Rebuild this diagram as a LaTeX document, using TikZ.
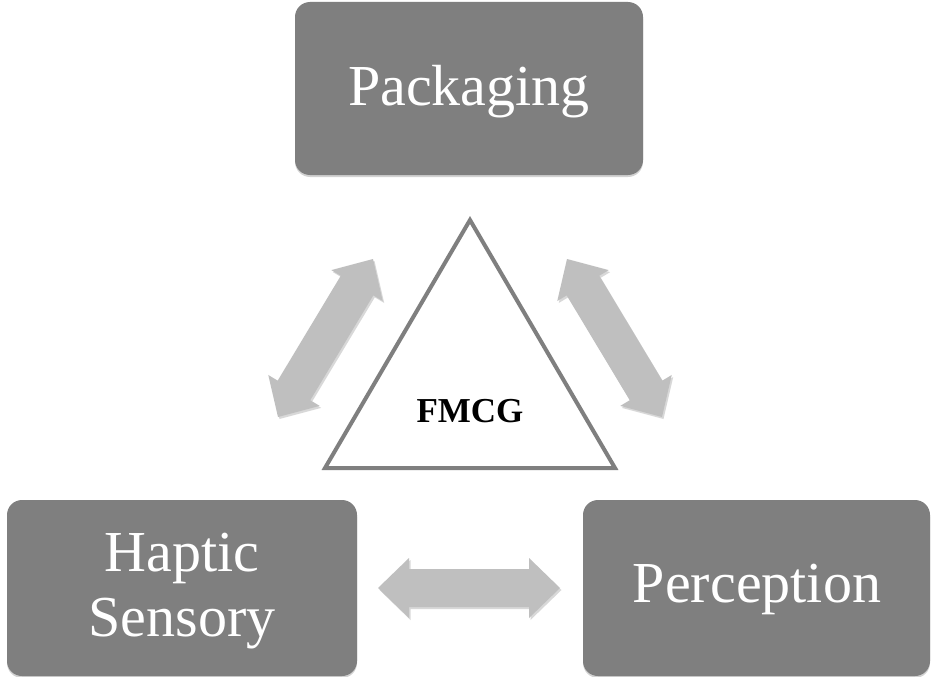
\documentclass[tikz,border=0pt]{standalone}
\usepackage{fontspec}
\setmainfont{Liberation Serif}
\usetikzlibrary{calc,shadows}
\definecolor{boxgray}{HTML}{7F7F7F}
\definecolor{arrgray}{HTML}{BFBFBF}
\definecolor{trigray}{HTML}{7F7F7F}
\tikzset{
  boxbg/.style={fill=boxgray, rounded corners=15pt, drop shadow={shadow xshift=0pt, shadow yshift=-2pt, opacity=0.35}},
  boxtext/.style={text=white, font=\fontsize{58}{65}\selectfont, align=center},
  arrowfill/.style={fill=arrgray, drop shadow={shadow xshift=1.5pt, shadow yshift=-2pt, opacity=0.3}},
}
\newcommand{\dblarr}[3]{%
  \coordinate (#1ha) at ($(#2)!31pt!(#3)$);
  \coordinate (#1hb) at ($(#3)!31pt!(#2)$);
  \fill[arrowfill] (#2) -- ($(#1ha)!30pt!90:(#3)$) -- ($(#1ha)!19pt!90:(#3)$)
    -- ($(#1hb)!19pt!-90:(#2)$) -- ($(#1hb)!30pt!-90:(#2)$) -- (#3)
    -- ($(#1hb)!30pt!90:(#2)$) -- ($(#1hb)!19pt!90:(#2)$)
    -- ($(#1ha)!19pt!-90:(#3)$) -- ($(#1ha)!30pt!-90:(#3)$) -- cycle;}
\begin{document}
\begin{tikzpicture}[x=1pt,y=-1pt]
\fill[white] (0,0) rectangle (932,677);
\useasboundingbox (0,0) rectangle (932,677);
% boxes
\path[boxbg] (295,2) rectangle (643,175);
\path[boxbg] (7,500) rectangle (357,676);
\path[boxbg] (583,500) rectangle (930,676);
\node[boxtext, anchor=base] (pack) at (469,105) {Packaging};
\node[boxtext] (hap) at (182,591) {Haptic\\Sensory};
\node[boxtext, anchor=base] (perc) at (757,602) {Perception};
% triangle
\coordinate (tA) at (470,220);
\coordinate (tB) at (325,468);
\coordinate (tC) at (615,468);
\draw[trigray, line width=4pt, fill=white, line join=miter] (tA) -- (tB) -- (tC) -- cycle;
\node[font=\fontsize{35}{40}\selectfont\bfseries, anchor=base] (fmcg) at (470,422) {FMCG};
% arrows
\coordinate (la) at (278,417);
\coordinate (lb) at (373,259);
\coordinate (ra) at (567,259);
\coordinate (rb) at (662,417);
\coordinate (ba) at (378,588);
\coordinate (bb) at (560,588);
\dblarr{L}{la}{lb}
\dblarr{R}{ra}{rb}
\dblarr{B}{ba}{bb}
\end{tikzpicture}
\end{document}
